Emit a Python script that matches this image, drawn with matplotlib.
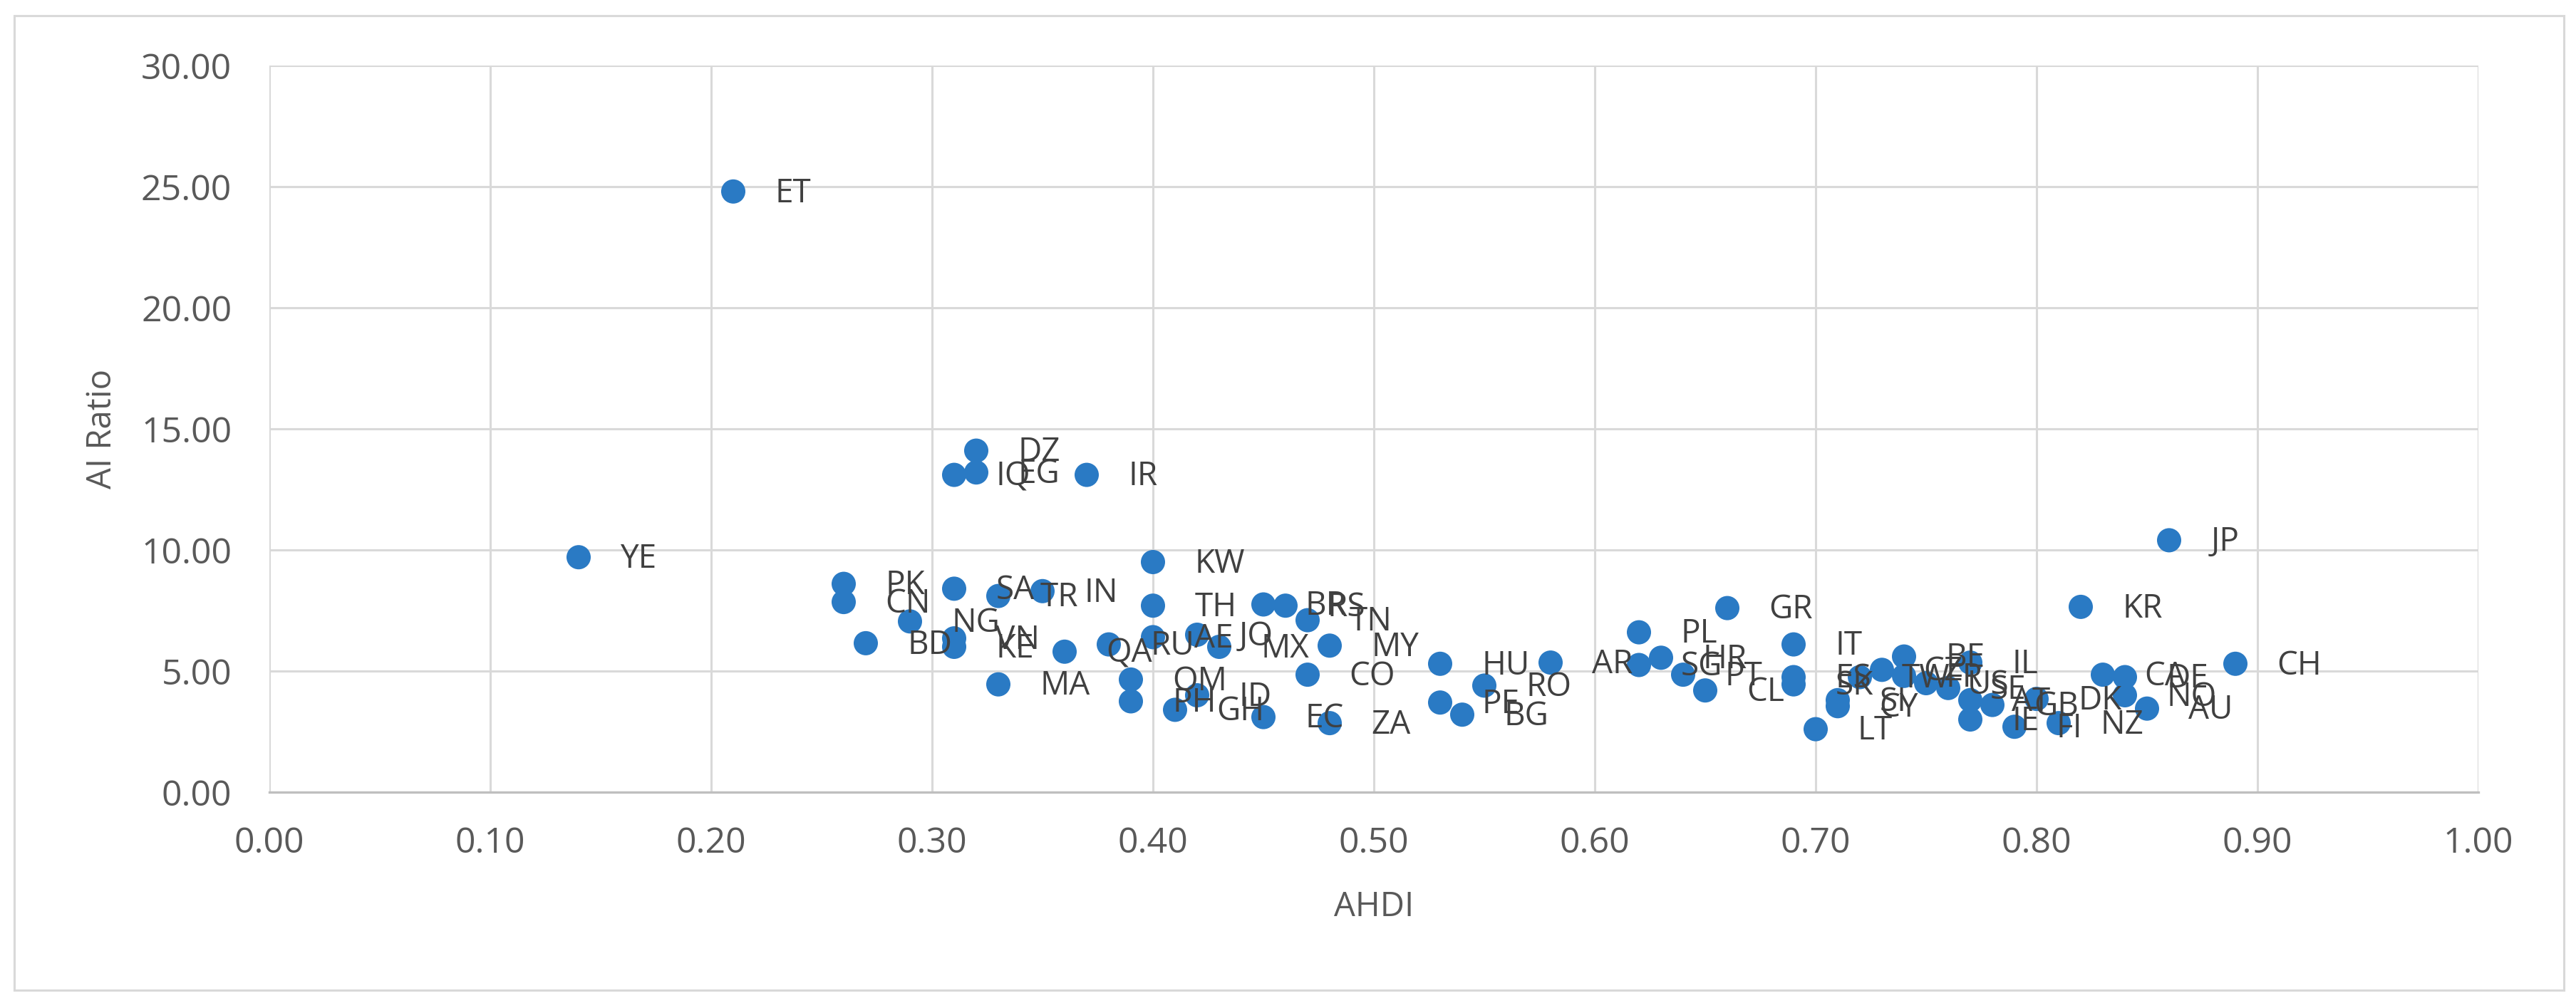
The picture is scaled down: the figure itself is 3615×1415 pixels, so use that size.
import matplotlib
matplotlib.use("Agg")
import matplotlib.pyplot as plt
from matplotlib.patches import Rectangle

plt.rcParams['font.family'] = ['Open Sans', 'DejaVu Sans']

# ---- data ----
codes = ['ET', 'YE', 'DZ', 'IQ', 'EG', 'IR', 'KW', 'PK', 'CN', 'SA', 'TR', 'IN',
         'NG', 'BD', 'VN', 'KE', 'MA', 'QA', 'RU', 'TH', 'AE', 'JO', 'MX', 'BR',
         'RS', 'TN', 'MY', 'CO', 'OM', 'PH', 'GH', 'ID', 'EC', 'ZA', 'HU', 'RO',
         'PE', 'BG', 'AR', 'PL', 'SG', 'HR', 'PT', 'CL', 'GR', 'IT', 'ES', 'SK',
         'LT', 'SI', 'CY', 'TW', 'CZ', 'BE', 'FR', 'US', 'SE', 'IL', 'AT', 'GB',
         'IE', 'FI', 'DK', 'NZ', 'CA', 'DE', 'NO', 'AU', 'CH', 'JP', 'KR']
ahdi = [0.21, 0.14, 0.32, 0.31, 0.32, 0.37, 0.40, 0.26, 0.26, 0.31, 0.33, 0.35,
        0.29, 0.27, 0.31, 0.31, 0.33, 0.36, 0.38, 0.40, 0.40, 0.42, 0.43, 0.45,
        0.46, 0.47, 0.48, 0.47, 0.39, 0.39, 0.41, 0.42, 0.45, 0.48, 0.53, 0.55,
        0.53, 0.54, 0.58, 0.62, 0.62, 0.63, 0.64, 0.65, 0.66, 0.69, 0.69, 0.69,
        0.70, 0.71, 0.71, 0.72, 0.73, 0.74, 0.74, 0.75, 0.76, 0.77, 0.77, 0.78,
        0.77, 0.79, 0.80, 0.81, 0.83, 0.84, 0.84, 0.85, 0.89, 0.86, 0.82]
ai_ratio = [24.8, 9.7, 14.1, 13.1, 13.2, 13.1, 9.5, 8.6, 7.85, 8.4, 8.1, 8.3,
            7.05, 6.15, 6.35, 6.0, 4.45, 5.8, 6.1, 7.7, 6.4, 6.5, 6.0, 7.75,
            7.7, 7.1, 6.05, 4.85, 4.65, 3.75, 3.4, 4.0, 3.1, 2.85, 5.3, 4.4,
            3.7, 3.2, 5.35, 6.6, 5.25, 5.55, 4.85, 4.2, 7.6, 6.1, 4.75, 4.45,
            2.6, 3.8, 3.55, 4.75, 5.05, 5.6, 4.8, 4.5, 4.3, 5.35, 3.8, 3.6,
            3.0, 2.7, 3.85, 2.85, 4.85, 4.75, 4.0, 3.45, 5.3, 10.4, 7.65]
x_ticks = [0.0, 0.1, 0.2, 0.3, 0.4, 0.5, 0.6, 0.7, 0.8, 0.9, 1.0]
y_ticks = [0, 5, 10, 15, 20, 25, 30]

W, H = 3616, 1415
fig = plt.figure(figsize=(W / 100, H / 100), dpi=100)
fig.patch.set_facecolor('white')

# outer chart border
fig.patches.append(Rectangle((20 / W, 1 - 1390 / H), (3598 - 20) / W, (1390 - 22) / H,
                             transform=fig.transFigure, fill=False,
                             edgecolor='#D9D9D9', linewidth=2.2))

ax = fig.add_axes([378 / W, 1 - 1112 / H, 3100 / W, 1020 / H])
ax.set_xlim(0, 1.0)
ax.set_ylim(0, 30)
ax.set_xticks(x_ticks)
ax.set_yticks(y_ticks)
ax.set_xticklabels([f"{v:.2f}" for v in x_ticks])
ax.set_yticklabels([f"{v:.2f}" for v in y_ticks])
ax.grid(True, color='#D9D9D9', linewidth=2.2, zorder=0)
ax.set_axisbelow(True)
for s in ['top', 'right', 'left']:
    ax.spines[s].set_visible(False)
ax.spines['bottom'].set_color('#BFBFBF')
ax.spines['bottom'].set_linewidth(2.4)
ax.tick_params(axis='both', length=0, labelsize=36, colors='#595959')
ax.tick_params(axis='x', pad=34)
ax.tick_params(axis='y', pad=38)

ax.scatter(ahdi, ai_ratio, s=600, color='#2A7AC4', edgecolors='none', zorder=3)

for c, xv, yv in zip(codes, ahdi, ai_ratio):
    ax.annotate(c, (xv, yv), xytext=(42, -2), textcoords='offset points',
                ha='left', va='center', fontsize=33, color='#404040', zorder=4)

ax.set_xlabel('AHDI', fontsize=34, color='#595959')
ax.set_ylabel('AI Ratio', fontsize=34, color='#595959')
ax.xaxis.label.set_va('center')
ax.yaxis.label.set_va('center')
ax.xaxis.set_label_coords(0.5, (1112 - 1273) / 1020)
ax.yaxis.set_label_coords((143 - 378) / 3100, 0.5)

fig.savefig('out.png', dpi=100, facecolor='white')
